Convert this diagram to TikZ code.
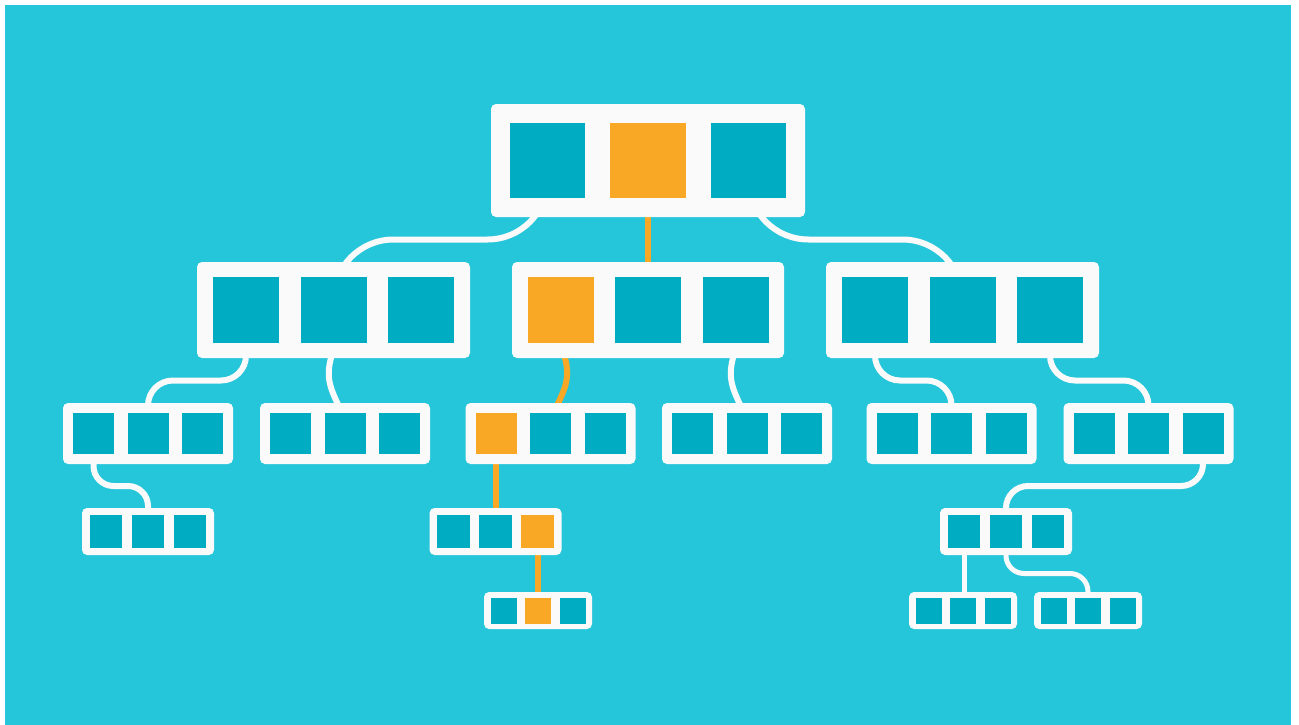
\documentclass[tikz,border=0pt]{standalone}
\usetikzlibrary{calc}
\definecolor{bgc}{HTML}{26C6DA}
\definecolor{tealc}{HTML}{00ACC1}
\definecolor{orc}{HTML}{F9A825}
\definecolor{wc}{HTML}{FAFAFA}
\pgfdeclarelayer{back}
\pgfdeclarelayer{conn}
\pgfsetlayers{back,conn,main}
\tikzset{
  obox/.style={fill=wc, draw=none, rounded corners=5, inner sep=0, outer sep=0},
  sqt/.style={fill=tealc, draw=none, inner sep=0, outer sep=0},
  sqo/.style={fill=orc, draw=none, inner sep=0, outer sep=0},
  wline/.style={draw=wc, line width=6},
  wthin/.style={draw=wc, line width=5},
  oline/.style={draw=orc, line width=6},
}
% name, cx, cy, W, H, square size, pitch, highlighted index (0 = none)
\newcommand\tbox[8]{%
  \node[obox, minimum width=#4, minimum height=#5] (#1) at (#2,#3) {};
  \foreach \i in {1,2,3}{%
    \ifnum\i=#8\relax \tikzset{sqsel/.style={sqo}}\else \tikzset{sqsel/.style={sqt}}\fi
    \node[sqsel, minimum size=#6] (#1-\i) at ({#2+(\i-2)*#7},#3) {};
  }%
}
\begin{document}
\begin{tikzpicture}[x=1pt,y=-1pt]
\useasboundingbox (0,0) rectangle (1299,725);
\begin{pgfonlayer}{back}
  \fill[white] (0,0) rectangle (1299,725);
  \fill[bgc] (5,5) rectangle (1291,725);
\end{pgfonlayer}
% level 1
\tbox{T}{648}{160.5}{314}{113}{75.5}{100.5}{2}
% level 2
\tbox{La}{333.5}{310}{273}{96}{66}{87.5}{0}
\tbox{Lb}{648}{310}{272}{96}{66}{87.5}{1}
\tbox{Lc}{962.5}{310}{273}{96}{66}{87.5}{0}
% level 3
\tbox{Ma}{148}{433.5}{170}{61}{41}{54.5}{0}
\tbox{Mb}{345}{433.5}{170}{61}{41}{54.5}{0}
\tbox{Mc}{550.5}{433.5}{170}{61}{41}{54.5}{1}
\tbox{Md}{747}{433.5}{170}{61}{41}{54.5}{0}
\tbox{Me}{951.5}{433.5}{170}{61}{41}{54.5}{0}
\tbox{Mf}{1148.5}{433.5}{170}{61}{41}{54.5}{0}
% level 4
\tbox{Na}{148}{531.5}{132}{47}{32.5}{42}{0}
\tbox{Nb}{495.5}{531.5}{132}{47}{32.5}{42}{3}
\tbox{Nc}{1006}{531.5}{132}{47}{32.5}{42}{0}
% level 5
\tbox{Pa}{538}{610.5}{108}{37}{26}{34.5}{2}
\tbox{Pb}{963}{610.5}{108}{37}{26}{34.5}{0}
\tbox{Pc}{1088}{610.5}{108}{37}{26}{34.5}{0}
% horizontal levels of the connectors
\coordinate (h1) at ($(T.south)!.5!(La.north)$);
\coordinate (h2) at ($(La.south)!.5!(Ma.north)$);
\coordinate (h3) at ($(Ma.south)!.5!(Na.north)$);
\coordinate (h4) at ($(Nc.south)!.5!(Pb.north)$);
\begin{pgfonlayer}{conn}
  % level 1 -> 2
  \draw[wline, rounded corners=60] (T-1.center) -- (T-1.center |- h1) -- (La-2.center |- h1) -- (La-2.center);
  \draw[oline] (T-2.center) -- (T-2.center |- Lb-2.center);
  \draw[wline, rounded corners=60] (T-3.center) -- (T-3.center |- h1) -- (Lc-2.center |- h1) -- (Lc-2.center);
  % level 2 -> 3
  \draw[wline, rounded corners=25] (La-1.center) -- (La-1.center |- h2) -- (Ma-2.center |- h2) -- (Ma-2.center);
  \draw[wline] ($(La-2.center |- La.south)+(0,-8)$) .. controls +(-10,28) and +(-10,-22) .. ($(Mb-2.center |- Mb.north)+(-4,8)$);
  \draw[oline] ($(Lb-1.center |- Lb.south)+(2,-8)$) .. controls +(10,28) and +(10,-22) .. ($(Mc-2.center |- Mc.north)+(4,8)$);
  \draw[wline] ($(Lb-3.center |- Lb.south)+(0,-8)$) .. controls +(-10,28) and +(-10,-22) .. ($(Md-2.center |- Md.north)+(-4,8)$);
  \draw[wline, rounded corners=25] (Lc-1.center) -- (Lc-1.center |- h2) -- (Me-2.center |- h2) -- (Me-2.center);
  \draw[wline, rounded corners=25] (Lc-3.center) -- (Lc-3.center |- h2) -- (Mf-2.center |- h2) -- (Mf-2.center);
  % level 3 -> 4
  \draw[wline, rounded corners=20] (Ma-1.center) -- (Ma-1.center |- h3) -- (Na-2.center |- h3) -- (Na-2.center);
  \draw[oline] (Mc-1.center) -- (Mc-1.center |- Nb-2.center);
  \draw[wline, rounded corners=22] (Mf-3.center) -- (Mf-3.center |- h3) -- (Nc-2.center |- h3) -- (Nc-2.center);
  % level 4 -> 5
  \draw[oline] (Nb-3.center) -- (Nb-3.center |- Pa-2.center);
  \draw[wthin] (Nc-1.center) -- (Nc-1.center |- Pb-2.center);
  \draw[wthin, rounded corners=18] (Nc-2.center) -- (Nc-2.center |- h4) -- (Pc-2.center |- h4) -- (Pc-2.center);
\end{pgfonlayer}
\end{tikzpicture}
\end{document}
